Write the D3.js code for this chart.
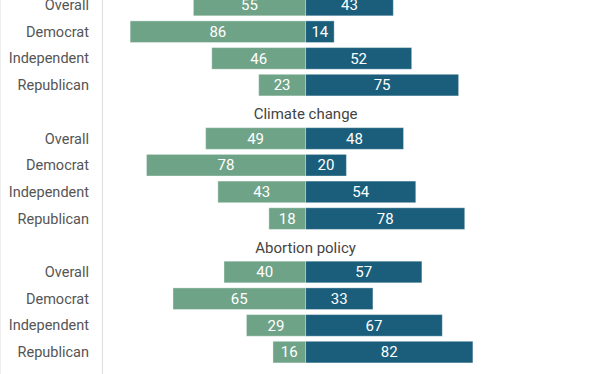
<!DOCTYPE html>
<html>
<head>
<meta charset="utf-8">
<script src="https://cdn.jsdelivr.net/npm/d3@7"></script>
<style>
  html, body { margin: 0; padding: 0; background: #fff; }
  svg { display: block; font-family: Roboto, "Noto Sans", sans-serif; }
</style>
</head>
<body>
<svg id="chart" width="612" height="374"></svg>
<script>
// ---- data ----
const sections = ["", "Climate change", "Abortion policy"];
const groups = ["Overall", "Democrat", "Independent", "Republican"];
const leftValues = [
  [55, 86, 46, 23],
  [49, 78, 43, 18],
  [40, 65, 29, 16]
];
const rightValues = [
  [43, 14, 52, 75],
  [48, 20, 54, 78],
  [57, 33, 67, 82]
];

// ---- build rows ----
const rows = [];
sections.forEach((s, si) => {
  rows.push({ key: "t" + si, type: "title", title: s });
  groups.forEach((g, gi) => {
    rows.push({ key: si + "-" + gi, type: "bar", group: g,
      left: leftValues[si][gi], right: rightValues[si][gi] });
  });
});

const W = 612, H = 374;
const svg = d3.select("#chart");
const greenC = "#6fa388";
const blueC = "#1a5e7c";

const x = d3.scaleLinear().domain([-100, 150]).range([101.6, 611.6]);
const y = d3.scaleBand()
  .domain(rows.map(r => r.key))
  .range([-35.05, 365.45])
  .paddingInner(0.19)
  .paddingOuter(0.095);
const cy = k => y(k) + y.bandwidth() / 2;

// guide lines
svg.append("line").attr("x1", 0.5).attr("x2", 0.5).attr("y1", 0).attr("y2", H)
  .attr("stroke", "#eeeeee").attr("stroke-width", 1);
svg.append("line").attr("x1", 102.5).attr("x2", 102.5).attr("y1", 0).attr("y2", H)
  .attr("stroke", "#dddddd").attr("stroke-width", 1);

const barRows = rows.filter(r => r.type === "bar");
const titleRows = rows.filter(r => r.type === "title" && r.title);

// section titles
svg.selectAll("text.title").data(titleRows).join("text")
  .attr("class", "title")
  .attr("x", x(0))
  .attr("y", d => cy(d.key) + 7.5)
  .attr("text-anchor", "middle")
  .attr("fill", "#444")
  .attr("font-size", 15)
  .text(d => d.title);

// row labels
svg.selectAll("text.lab").data(barRows).join("text")
  .attr("class", "lab")
  .attr("x", 89)
  .attr("y", d => cy(d.key))
  .attr("dy", "0.35em")
  .attr("text-anchor", "end")
  .attr("fill", "#555")
  .attr("font-size", 14.5)
  .text(d => d.group);

// left bars
svg.selectAll("rect.l").data(barRows).join("rect")
  .attr("class", "l")
  .attr("x", d => x(-d.left))
  .attr("y", d => y(d.key))
  .attr("width", d => x(0) - x(-d.left))
  .attr("height", y.bandwidth())
  .attr("fill", greenC)
  .attr("stroke", "#fff").attr("stroke-opacity", 0.35).attr("stroke-width", 1);

// right bars
svg.selectAll("rect.r").data(barRows).join("rect")
  .attr("class", "r")
  .attr("x", x(0))
  .attr("y", d => y(d.key))
  .attr("width", d => x(d.right) - x(0))
  .attr("height", y.bandwidth())
  .attr("fill", blueC)
  .attr("stroke", "#fff").attr("stroke-opacity", 0.35).attr("stroke-width", 1);

// value labels
svg.selectAll("text.lv").data(barRows).join("text")
  .attr("class", "lv")
  .attr("x", d => (x(-d.left) + x(0)) / 2)
  .attr("y", d => cy(d.key))
  .attr("dy", "0.35em")
  .attr("text-anchor", "middle")
  .attr("fill", "#fff")
  .attr("font-size", 15)
  .text(d => d.left);

svg.selectAll("text.rv").data(barRows).join("text")
  .attr("class", "rv")
  .attr("x", d => (x(d.right) + x(0)) / 2)
  .attr("y", d => cy(d.key))
  .attr("dy", "0.35em")
  .attr("text-anchor", "middle")
  .attr("fill", "#fff")
  .attr("font-size", 15)
  .text(d => d.right);
</script>
</body>
</html>
